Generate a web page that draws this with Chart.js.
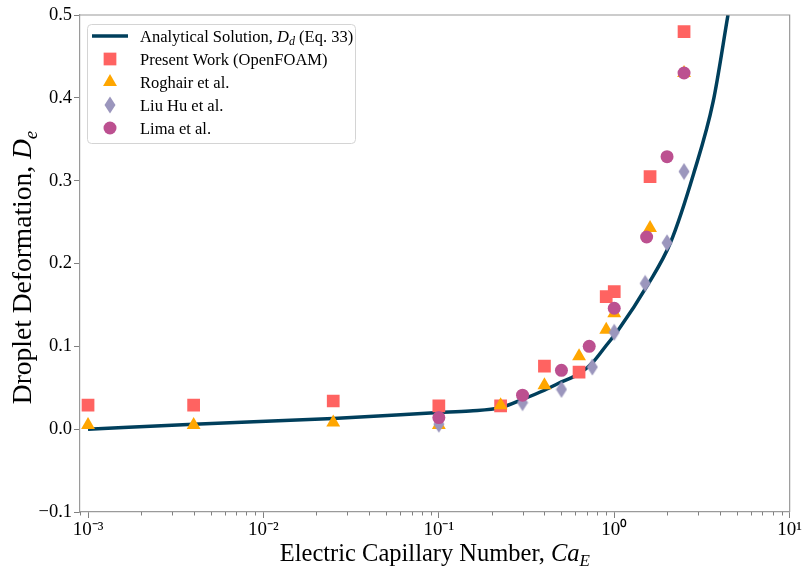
<!DOCTYPE html>
<html>
<head>
<meta charset="utf-8">
<script src="https://cdn.jsdelivr.net/npm/chart.js@4.4.1/dist/chart.umd.min.js"></script>
<style>
  body { margin: 0; background: #fff; }
</style>
</head>
<body>
<canvas id="myChart" width="803" height="570"></canvas>
<script>
// analytical curve
const lineCa = [0.001, 0.004, 0.025, 0.1, 0.15, 0.225, 0.3, 0.4, 0.5, 0.63, 0.75, 0.9, 1.05, 1.56, 2.09, 2.84, 3.66, 4.45];
const lineDe = [0.000, 0.006, 0.013, 0.020, 0.022, 0.026, 0.036, 0.047, 0.057, 0.067, 0.080, 0.101, 0.119, 0.175, 0.225, 0.309, 0.395, 0.500];

const presentCa = [0.001, 0.004, 0.025, 0.1, 0.225, 0.4, 0.63, 0.9, 1.0, 1.6, 2.5];
const presentDe = [0.029, 0.029, 0.034, 0.028, 0.028, 0.076, 0.069, 0.160, 0.166, 0.305, 0.480];

const roghairCa = [0.001, 0.004, 0.025, 0.1, 0.225, 0.4, 0.63, 0.9, 1.0, 1.6, 2.5];
const roghairDe = [0.005, 0.005, 0.008, 0.005, 0.029, 0.053, 0.088, 0.120, 0.140, 0.243, 0.430];

const liuCa = [0.1, 0.3, 0.5, 0.75, 1.0, 1.5, 2.0, 2.5];
const liuDe = [0.006, 0.032, 0.048, 0.075, 0.117, 0.176, 0.225, 0.311];

const limaCa = [0.1, 0.3, 0.5, 0.72, 1.0, 1.53, 2.0, 2.5];
const limaDe = [0.014, 0.041, 0.071, 0.100, 0.146, 0.232, 0.329, 0.430];

const seriesLabels = [
    'Analytical Solution, $D_d$ (Eq. 33)',
    'Present Work (OpenFOAM)',
    'Roghair et al.',
    'Liu Hu et al.',
    'Lima et al.'
];
const xTitle = 'Electric Capillary Number, $Ca_E$';
const yTitle = 'Droplet Deformation, $D_e$';
const yTicks = [-0.1, 0.0, 0.1, 0.2, 0.3, 0.4, 0.5];

const serif = '"Liberation Serif", "Times New Roman", serif';
const frameColor = '#9a9a9a';
const tickColor = '#808080';

function pts(xs, ys) {
    let out = [];
    for (let i = 0; i < xs.length; i++) {
        out.push({ x: xs[i], y: ys[i] });
    }
    return out;
}

function isDecade(v) {
    let e = Math.log10(v);
    return Math.abs(e - Math.round(e)) < 1e-6;
}

const sup = { '-': '\u207B', '0': '\u2070', '1': '\u00B9', '2': '\u00B2', '3': '\u00B3', '4': '\u2074', '5': '\u2075', '6': '\u2076', '7': '\u2077', '8': '\u2078', '9': '\u2079' };
function toSup(n) {
    return String(n).split('').map(c => sup[c]).join('');
}

// thin matplotlib-like diamond
function makeDiamond(color) {
    let c = document.createElement('canvas');
    c.width = 12;
    c.height = 18;
    let g = c.getContext('2d');
    g.fillStyle = color;
    g.beginPath();
    g.moveTo(6, 0.5);
    g.lineTo(11.5, 9);
    g.lineTo(6, 17.5);
    g.lineTo(0.5, 9);
    g.closePath();
    g.fill();
    return c;
}

// text with $X_y$ pieces in italic + subscript
function richParts(text, size) {
    let parts = [];
    text.split('$').forEach(function (chunk, i) {
        if (!chunk) return;
        if (i % 2 === 0) {
            parts.push({ t: chunk, font: size + 'px ' + serif, dy: 0 });
            return;
        }
        let bits = chunk.split('_');
        parts.push({ t: bits[0], font: 'italic ' + size + 'px ' + serif, dy: 0 });
        if (bits[1]) parts.push({ t: bits[1], font: 'italic ' + Math.round(size * 0.7) + 'px ' + serif, dy: size * 0.2 });
    });
    return parts;
}

function drawRich(ctx, text, x, y, size, align) {
    let parts = richParts(text, size);
    let w = 0;
    parts.forEach(p => { ctx.font = p.font; p.w = ctx.measureText(p.t).width; w += p.w; });
    let cx = align === 'center' ? x - w / 2 : x;
    ctx.textAlign = 'left';
    ctx.textBaseline = 'alphabetic';
    parts.forEach(p => { ctx.font = p.font; ctx.fillText(p.t, cx, y + p.dy); cx += p.w; });
}

const extras = {
    id: 'extras',
    afterDraw(chart) {
        const ctx = chart.ctx;
        const area = chart.chartArea;
        const xs = chart.scales.x;
        ctx.save();

        // top and right spines
        ctx.strokeStyle = frameColor;
        ctx.lineWidth = 1.2;
        ctx.beginPath();
        ctx.moveTo(area.left, area.top);
        ctx.lineTo(area.right, area.top);
        ctx.lineTo(area.right, area.bottom);
        ctx.stroke();

        // minor ticks on the log axis
        ctx.strokeStyle = tickColor;
        ctx.lineWidth = 1;
        xs.ticks.forEach(t => {
            if (isDecade(t.value)) return;
            let px = Math.round(xs.getPixelForValue(t.value)) + 0.5;
            ctx.beginPath();
            ctx.moveTo(px, area.bottom);
            ctx.lineTo(px, area.bottom + 3.5);
            ctx.stroke();
        });

        // axis titles
        ctx.fillStyle = '#000';
        drawRich(ctx, xTitle, (area.left + area.right) / 2, 561, 24.5, 'center');
        ctx.save();
        ctx.translate(31, (area.top + area.bottom) / 2 + 4);
        ctx.rotate(-Math.PI / 2);
        drawRich(ctx, yTitle, 0, 0, 27.5, 'center');
        ctx.restore();

        // legend box in the upper left corner
        const lx = area.left + 7, ly = area.top + 9, lw = 268, lh = 119, row = 23;
        ctx.fillStyle = 'rgba(255,255,255,0.85)';
        ctx.strokeStyle = '#d4d4d4';
        ctx.lineWidth = 1;
        ctx.beginPath();
        ctx.roundRect(lx + 0.5, ly + 0.5, lw, lh, 4);
        ctx.fill();
        ctx.stroke();

        chart.data.datasets.forEach(function (ds, i) {
            let cy = ly + 12 + i * row;
            let hx = lx + 23;
            if (ds.type === 'line') {
                ctx.strokeStyle = ds.borderColor;
                ctx.lineWidth = ds.borderWidth;
                ctx.beginPath();
                ctx.moveTo(hx - 18, cy);
                ctx.lineTo(hx + 18, cy);
                ctx.stroke();
            } else {
                ctx.fillStyle = ds.backgroundColor;
                if (Chart.helpers && Chart.helpers.drawPoint) {
                    Chart.helpers.drawPoint(ctx, { pointStyle: ds.pointStyle, radius: ds.pointRadius, rotation: 0, borderWidth: 0 }, hx, cy);
                } else {
                    ctx.beginPath();
                    ctx.arc(hx, cy, 6.5, 0, Math.PI * 2);
                    ctx.fill();
                }
            }
            ctx.fillStyle = '#000';
            drawRich(ctx, ds.label, lx + 53, cy + 6, 16.5, 'left');
        });

        ctx.restore();
    }
};

var ctx = document.getElementById('myChart').getContext('2d');
var myChart = new Chart(ctx, {
    type: 'scatter',
    data: {
        datasets: [{
                type: 'line',
                label: seriesLabels[0],
                data: pts(lineCa, lineDe),
                borderColor: '#003f5c',
                borderWidth: 3.5,
                pointRadius: 0,
                fill: false,
                cubicInterpolationMode: 'monotone',
                order: 5
            },
            {
                label: seriesLabels[1],
                data: pts(presentCa, presentDe),
                pointStyle: 'rect',
                pointRadius: 9,
                backgroundColor: '#ff6361',
                borderWidth: 0,
                order: 4
            },
            {
                label: seriesLabels[2],
                data: pts(roghairCa, roghairDe),
                pointStyle: 'triangle',
                pointRadius: 8,
                backgroundColor: '#ffa600',
                borderWidth: 0,
                order: 3
            },
            {
                label: seriesLabels[3],
                data: pts(liuCa, liuDe),
                pointStyle: makeDiamond('#9b96bd'),
                pointRadius: 8,
                backgroundColor: '#9b96bd',
                borderWidth: 0,
                order: 2
            },
            {
                label: seriesLabels[4],
                data: pts(limaCa, limaDe),
                pointStyle: 'circle',
                pointRadius: 6.5,
                backgroundColor: '#bc5090',
                borderWidth: 0,
                order: 1
            }
        ]
    },
    options: {
        responsive: false,
        animation: false,
        devicePixelRatio: 1,
        layout: { padding: { left: 0, right: 12, top: 15, bottom: 0 } },
        plugins: {
            legend: { display: false },
            tooltip: { enabled: false }
        },
        scales: {
            x: {
                type: 'logarithmic',
                min: 0.0009,
                max: 10,
                afterFit: function (scale) { scale.height = 58; },
                afterBuildTicks: function (scale) {
                    // drop the 1.5x ticks chart.js adds
                    scale.ticks = scale.ticks.filter(t => {
                        let m = t.value / Math.pow(10, Math.floor(Math.log10(t.value) + 1e-9));
                        return Math.abs(m - 1.5) > 1e-6;
                    });
                },
                border: { color: frameColor, width: 1.2 },
                grid: {
                    drawOnChartArea: false,
                    drawTicks: true,
                    tickLength: 6,
                    tickColor: c => (c.tick && isDecade(c.tick.value)) ? tickColor : 'rgba(0,0,0,0)'
                },
                ticks: {
                    autoSkip: false,
                    maxRotation: 0,
                    padding: 1,
                    color: '#000',
                    font: { family: serif, size: 19 },
                    callback: function (value) {
                        if (!isDecade(value)) return '';
                        return '10' + toSup(Math.round(Math.log10(value)));
                    }
                }
            },
            y: {
                type: 'linear',
                min: -0.1,
                max: 0.5,
                afterFit: function (scale) { scale.width = 80; },
                afterBuildTicks: function (scale) {
                    scale.ticks = yTicks.map(v => ({ value: v }));
                },
                border: { color: frameColor, width: 1.2 },
                grid: {
                    drawOnChartArea: false,
                    drawTicks: true,
                    tickLength: 6,
                    tickColor: tickColor
                },
                ticks: {
                    padding: 2,
                    color: '#000',
                    font: { family: serif, size: 18.5 },
                    callback: function (value) {
                        return value < 0 ? '\u2212' + Math.abs(value).toFixed(1) : value.toFixed(1);
                    }
                }
            }
        }
    },
    plugins: [extras]
});
</script>
</body>
</html>
